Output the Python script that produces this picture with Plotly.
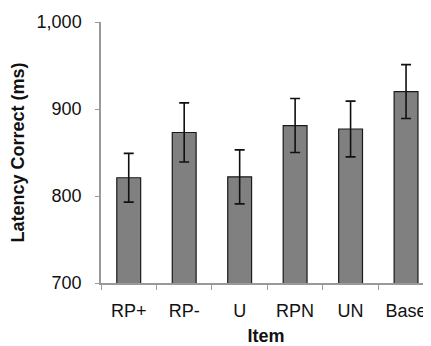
import plotly.graph_objects as go

items = ["RP+", "RP-", "U", "RPN", "UN", "Base"]
latency = [821, 873, 822, 881, 877, 920]
error = [28, 34, 31, 31, 32, 31]
y_ticks = [700, 800, 900, 1000]

font_family = "Arial, Liberation Sans, sans-serif"

fig = go.Figure(
    go.Bar(
        x=items,
        y=latency,
        width=0.43,
        marker=dict(color="#808080", line=dict(color="#1a1a1a", width=1.2)),
        error_y=dict(type="data", array=error, visible=True,
                     color="#111111", thickness=1.6, width=5),
    )
)

# page body has an 8px default margin; figure is sized to fit the window
fig.update_layout(
    width=423, height=338,
    margin=dict(l=93, r=0, t=14, b=63),
    paper_bgcolor="white", plot_bgcolor="white",
    showlegend=False,
    font=dict(family=font_family, size=18, color="#111111"),
)

fig.update_xaxes(
    range=[-0.5, 5.45],
    automargin=False,
    showline=True, linecolor="#999999", linewidth=1.5,
    ticks="outside", tickson="boundaries", ticklen=5, tickcolor="#999999",
    showgrid=False, zeroline=False,
    ticklabelstandoff=11,
    title=dict(text="<b>Item</b>", font=dict(size=18), standoff=13),
)

fig.update_yaxes(
    range=[700, 1000],
    automargin=False,
    tickvals=y_ticks, tickformat=",",
    showline=True, linecolor="#999999", linewidth=1.5,
    ticks="outside", ticklen=4, tickcolor="#999999",
    showgrid=False, zeroline=False,
    ticklabelstandoff=10,
    title=dict(text="<b>Latency Correct (ms)</b>", font=dict(size=18), standoff=7),
)

fig.write_html("out.html")
